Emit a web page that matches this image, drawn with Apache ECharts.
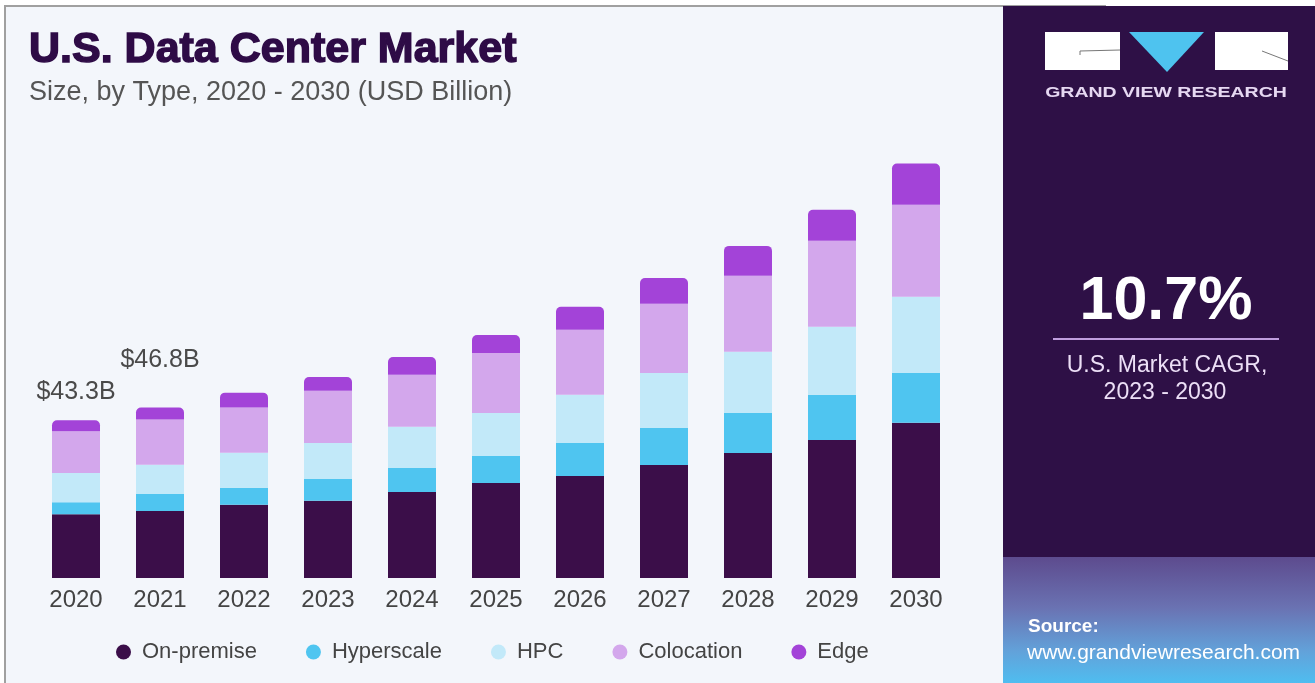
<!DOCTYPE html>
<html lang="en">
<head>
<meta charset="UTF-8">
<title>U.S. Data Center Market</title>
<script src="https://cdn.jsdelivr.net/npm/echarts@6/dist/echarts.min.js"></script>
<style>
  html, body { margin: 0; padding: 0; background: #fff; }
  #main { width: 1315px; height: 683px; }
</style>
</head>
<body>
<div id="main"></div>
<script>
// data (USD Billion)
var years = ['2020', '2021', '2022', '2023', '2024', '2025', '2026', '2027', '2028', '2029', '2030'];
var onPremise  = [17.5, 18.4, 20.1, 21.2, 23.6, 26.1, 28.0, 31.0, 34.3, 37.9, 42.6];
var hyperscale = [3.3, 4.7, 4.7, 6.0, 6.6, 7.4, 9.1, 10.2, 11.0, 12.4, 13.7];
var hpc        = [8.0, 8.0, 9.6, 9.9, 11.3, 11.8, 13.2, 15.1, 16.8, 18.7, 20.9];
var colocation = [11.5, 12.4, 12.4, 14.3, 14.3, 16.5, 17.9, 19.0, 20.9, 23.6, 25.3];
var edge       = [3.0, 3.3, 4.1, 3.8, 4.9, 4.9, 6.3, 7.1, 8.2, 8.5, 11.3];
var topLabels  = ['$43.3B', '$46.8B', '', '', '', '', '', '', '', '', ''];
var labelGap   = [16, 35];

var colors = ['#3b0e49', '#4fc5f0', '#c2e9f9', '#d3a7ec', '#a343d8'];
var font = '"Liberation Sans", Arial, sans-serif';

var myChart = echarts.init(document.getElementById('main'));

// edge is the top segment, it carries the total labels
var edgeData = edge.map(function (v, i) {
  if (!topLabels[i]) return v;
  return {
    value: v,
    label: {
      show: true, position: 'top', distance: labelGap[i],
      formatter: topLabels[i], fontSize: 25, color: '#4a4a4a', fontFamily: font
    }
  };
});

function barSeries(name, data, idx) {
  return {
    name: name,
    type: 'bar',
    stack: 'total',
    barWidth: 48,
    data: data,
    itemStyle: { color: colors[idx], borderRadius: idx === 4 ? [5, 5, 0, 0] : 0 },
    emphasis: { disabled: true }
  };
}

var option = {
  backgroundColor: '#ffffff',
  animation: false,
  title: {
    text: 'U.S. Data Center Market',
    subtext: 'Size, by Type, 2020 - 2030 (USD Billion)',
    left: 24,
    top: 24,
    itemGap: 6,
    textStyle: {
      fontFamily: font, fontSize: 43, fontWeight: 'bold', color: '#2e0b46',
      textBorderColor: '#2e0b46', textBorderWidth: 1.5
    },
    subtextStyle: { fontFamily: font, fontSize: 27, color: '#555555' }
  },
  legend: {
    left: 111,
    top: 636,
    icon: 'circle',
    itemWidth: 15,
    itemHeight: 15,
    itemGap: 49,
    textStyle: { fontFamily: font, fontSize: 22, color: '#444444', padding: [0, 0, 0, 6] },
    data: ['On-premise', 'Hyperscale', 'HPC', 'Colocation', 'Edge']
  },
  grid: { left: 34, right: 357, top: 141, bottom: 105 },
  xAxis: {
    type: 'category',
    data: years,
    axisLine: { show: false },
    axisTick: { show: false },
    axisLabel: { fontFamily: font, fontSize: 24, color: '#444444', margin: 10 }
  },
  yAxis: {
    type: 'value',
    min: 0,
    max: 120,
    show: false,
    splitLine: { show: false }
  },
  graphic: {
    elements: [
      // left light panel with thin grey frame
      { type: 'rect', z: -10, shape: { x: 5, y: 6, width: 1100, height: 700 },
        style: { fill: '#f3f6fb', stroke: '#a0a0a0', lineWidth: 2 } },
      // right dark panel
      { type: 'rect', z: -9, shape: { x: 1003, y: 6, width: 312, height: 677 },
        style: { fill: '#2e1046' } },
      { type: 'rect', z: -8, shape: { x: 1003, y: 557, width: 312, height: 126 },
        style: {
          fill: {
            type: 'linear', x: 0, y: 0, x2: 0, y2: 1,
            colorStops: [
              { offset: 0, color: '#5d4b8e' },
              { offset: 0.4, color: '#6a72b2' },
              { offset: 0.75, color: '#62a2da' },
              { offset: 1, color: '#4fbdf0' }
            ]
          }
        } },
      // logo
      { type: 'rect', z: 5, shape: { x: 1045, y: 32, width: 75, height: 38 }, style: { fill: '#ffffff' } },
      { type: 'polygon', z: 5, shape: { points: [[1129, 32], [1204, 32], [1167, 72]] }, style: { fill: '#4ec3ef' } },
      { type: 'rect', z: 5, shape: { x: 1215, y: 32, width: 73, height: 38 }, style: { fill: '#ffffff' } },
      { type: 'polyline', z: 6, shape: { points: [[1080, 55], [1080, 51], [1120, 50]] }, style: { stroke: '#777', lineWidth: 1, fill: null } },
      { type: 'polyline', z: 6, shape: { points: [[1262, 51], [1288, 61]] }, style: { stroke: '#777', lineWidth: 1, fill: null } },
      { type: 'text', z: 5, x: 1166, y: 93, scaleX: 1.3, style: {
          x: 0, y: 0, text: 'GRAND VIEW RESEARCH', align: 'center', verticalAlign: 'middle',
          font: 'bold 15px ' + font, fill: '#e6d8f2'
        } },
      // CAGR block
      { type: 'text', z: 5, style: {
          x: 1166, y: 302, text: '10.7%', align: 'center', verticalAlign: 'middle',
          font: 'bold 61px ' + font, fill: '#ffffff'
        } },
      { type: 'line', z: 5, shape: { x1: 1053, y1: 339, x2: 1279, y2: 339 }, style: { stroke: '#c09ede', lineWidth: 2 } },
      { type: 'text', z: 5, style: {
          x: 1167, y: 366, text: 'U.S. Market CAGR,', align: 'center', verticalAlign: 'middle',
          font: '23px ' + font, fill: '#ecdff6'
        } },
      { type: 'text', z: 5, style: {
          x: 1165, y: 393, text: '2023 - 2030', align: 'center', verticalAlign: 'middle',
          font: '23px ' + font, fill: '#ecdff6'
        } },
      // source
      { type: 'text', z: 5, style: {
          x: 1028, y: 627, text: 'Source:', align: 'left', verticalAlign: 'middle',
          font: 'bold 19px ' + font, fill: '#ffffff'
        } },
      { type: 'text', z: 5, style: {
          x: 1027, y: 653, text: 'www.grandviewresearch.com', align: 'left', verticalAlign: 'middle',
          font: '21px ' + font, fill: '#ffffff'
        } }
    ]
  },
  series: [
    barSeries('On-premise', onPremise, 0),
    barSeries('Hyperscale', hyperscale, 1),
    barSeries('HPC', hpc, 2),
    barSeries('Colocation', colocation, 3),
    barSeries('Edge', edgeData, 4)
  ]
};

myChart.setOption(option);
</script>
</body>
</html>
